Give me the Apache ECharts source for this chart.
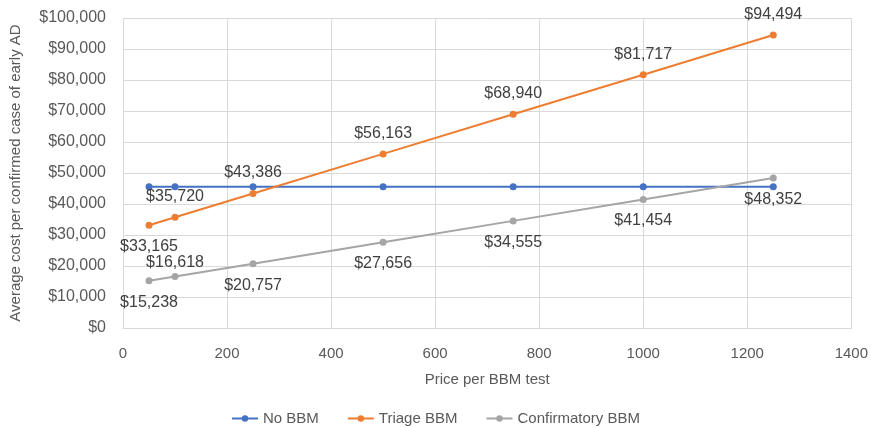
<!DOCTYPE html>
<html>
<head>
<meta charset="utf-8">
<script src="https://cdn.jsdelivr.net/npm/echarts@6/dist/echarts.min.js"></script>
<style>
  html, body { margin: 0; padding: 0; background: #fff; }
  #chart { width: 871px; height: 427px; }
</style>
</head>
<body>
<div id="chart"></div>
<script>
// Price per BBM test (x) and average cost per confirmed case for each strategy
const prices = [50, 100, 250, 500, 750, 1000, 1250];
const noBBM = [45580, 45580, 45580, 45580, 45580, 45580, 45580];
const triageBBM = [33165, 35720, 43386, 56163, 68940, 81717, 94494];
const confirmatoryBBM = [15238, 16618, 20757, 27656, 34555, 41454, 48352];
// Label placement for each point (above / below the marker)
const triageLabelPos = ['bottom', 'top', 'top', 'top', 'top', 'top', 'top'];
const confirmLabelPos = ['bottom', 'top', 'bottom', 'bottom', 'bottom', 'bottom', 'bottom'];

const fontFam = 'Liberation Sans, Arial, sans-serif';
const textColor = '#595959';
const fmt = v => '$' + Math.round(v).toLocaleString('en-US');

// Gap between marker and label; the crowded label near the start sits closer
function labelGap(pos, seriesName, i) {
  if (seriesName === 'Confirmatory BBM' && i === 1) return 2;
  return pos === 'bottom' ? 10 : 9;
}

function pts(values, positions, seriesName) {
  return values.map((v, i) => {
    const p = { value: [prices[i], v] };
    if (positions) {
      p.label = { show: true, position: positions[i], distance: labelGap(positions[i], seriesName, i) };
    }
    return p;
  });
}

const chart = echarts.init(document.getElementById('chart'));
chart.setOption({
  animation: false,
  grid: { left: 119, right: 19, top: 18, bottom: 99, containLabel: false },
  legend: {
    top: 406,
    left: 'center',
    itemWidth: 26,
    itemHeight: 8,
    itemGap: 28,
    textStyle: { color: textColor, fontSize: 15, fontFamily: fontFam },
    data: ['No BBM', 'Triage BBM', 'Confirmatory BBM']
  },
  xAxis: {
    type: 'value',
    min: 0, max: 1400, interval: 200,
    name: 'Price per BBM test',
    nameLocation: 'middle',
    nameGap: 44,
    nameTextStyle: { color: textColor, fontSize: 15, fontFamily: fontFam },
    axisLine: { show: true, lineStyle: { color: '#d9d9d9' } },
    axisTick: { show: false },
    axisLabel: { color: textColor, fontSize: 15, fontFamily: fontFam, margin: 18, formatter: v => String(v) },
    splitLine: { show: true, lineStyle: { color: '#d9d9d9' } }
  },
  yAxis: {
    type: 'value',
    min: 0, max: 100000, interval: 10000,
    name: 'Average cost per confirmed case of early AD',
    nameLocation: 'middle',
    nameGap: 100,
    nameTextStyle: { color: textColor, fontSize: 15, fontFamily: fontFam },
    axisLine: { show: false },
    axisTick: { show: false },
    axisLabel: { color: textColor, fontSize: 16, fontFamily: fontFam, margin: 17, formatter: fmt },
    splitLine: { show: true, lineStyle: { color: '#d9d9d9' } }
  },
  series: [
    {
      name: 'No BBM', type: 'line',
      data: pts(noBBM, null, 'No BBM'),
      color: '#4472C4',
      symbol: 'circle', symbolSize: 7,
      lineStyle: { width: 2 },
      label: { show: false }
    },
    {
      name: 'Triage BBM', type: 'line',
      data: pts(triageBBM, triageLabelPos, 'Triage BBM'),
      color: '#ED7D31',
      symbol: 'circle', symbolSize: 7,
      lineStyle: { width: 2 },
      label: {
        show: true, color: '#404040', fontSize: 16, fontFamily: fontFam,
        formatter: p => fmt(p.value[1])
      }
    },
    {
      name: 'Confirmatory BBM', type: 'line',
      data: pts(confirmatoryBBM, confirmLabelPos, 'Confirmatory BBM'),
      color: '#A5A5A5',
      symbol: 'circle', symbolSize: 7,
      lineStyle: { width: 2 },
      label: {
        show: true, color: '#404040', fontSize: 16, fontFamily: fontFam,
        formatter: p => fmt(p.value[1])
      }
    }
  ]
});
</script>
</body>
</html>
